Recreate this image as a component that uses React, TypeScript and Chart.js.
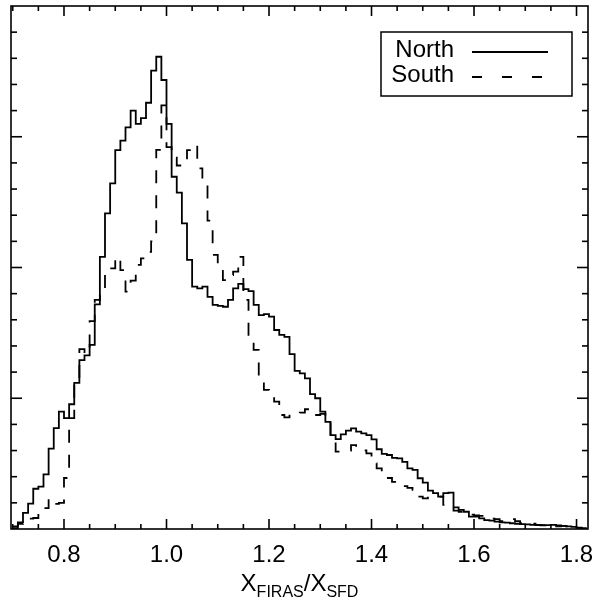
import React, { useEffect, useRef } from "react";
import { Chart, registerables } from "chart.js";

Chart.register(...registerables);

// Histogram bins: first bin starts at binStart, each bin is binWidth wide
const binStart = 0.7;
const binWidth = 0.01;

// Relative counts (in units of the minor y tick)
const northCounts = [
  0.03, 0.25, 0.62, 0.97, 1.54, 1.62, 2.09, 3.07, 3.86, 4.49,
  4.24, 4.77, 5.59, 6.46, 6.64, 7.04, 8.59, 10.41, 12.07, 13.22,
  14.49, 14.85, 15.36, 16.0, 15.49, 15.71, 16.3, 17.53, 18.06, 17.17,
  15.49, 13.47, 12.86, 11.69, 10.29, 9.27, 9.2, 9.27, 8.88, 8.57,
  8.53, 8.5, 8.76, 9.2, 9.37, 9.17, 9.1, 8.57, 8.18, 8.22,
  8.12, 7.61, 7.42, 7.35, 6.69, 6.05, 5.95, 5.76, 5.16, 5.0,
  4.49, 4.1, 3.59, 3.44, 3.62, 3.76, 3.85, 3.72, 3.66, 3.59,
  3.43, 3.05, 2.87, 2.83, 2.72, 2.7, 2.57, 2.32, 2.26, 1.94,
  1.77, 1.47, 1.37, 1.24, 1.37, 1.39, 0.83, 0.73, 0.66, 0.47,
  0.47, 0.41, 0.34, 0.32, 0.28, 0.25, 0.24, 0.22, 0.2, 0.19,
  0.18, 0.16, 0.15, 0.14, 0.15, 0.16, 0.14, 0.12, 0.1, 0.08,
  0.05, 0.02,
];

const southCounts = [
  0.1, 0.2, 0.3, 0.4, 0.42, 0.6, 0.8, 1.15, 0.96, 1.0,
  1.95, 4.24, 5.76, 6.88, 6.7, 7.95, 8.76, 9.06, 9.95, 9.97,
  10.4, 9.9, 9.08, 9.5, 10.1, 10.35, 10.6, 11.0, 14.5, 16.2,
  14.6, 14.2, 13.9, 13.98, 14.49, 14.68, 13.79, 13.27, 11.79, 10.48,
  9.93, 9.52, 9.71, 9.84, 10.41, 8.76, 7.35, 6.85, 5.82, 5.32,
  5.06, 4.87, 4.36, 4.27, 4.42, 4.42, 4.45, 4.58, 4.42, 4.36,
  4.4, 4.3, 3.53, 2.96, 2.96, 3.0, 3.21, 3.14, 3.01, 2.89,
  2.51, 2.32, 2.13, 1.95, 1.8, 1.72, 1.64, 1.57, 1.5, 1.24,
  1.17, 1.2, 1.22, 1.24, 0.92, 0.85, 0.7, 0.66, 0.6, 0.55,
  0.52, 0.5, 0.5, 0.4, 0.38, 0.3, 0.36, 0.38, 0.3, 0.22,
  0.2, 0.2, 0.16, 0.15, 0.14, 0.12, 0.1, 0.12, 0.1, 0.06,
  0.04, 0.02,
];

const xMajorTicks = [0.8, 1.0, 1.2, 1.4, 1.6, 1.8];
const xTickLabels = ["0.8", "1.0", "1.2", "1.4", "1.6", "1.8"];
const xMinorStep = 0.05;
const yMinorStep = 1;
const yMajorEvery = 5;
const xLimits = [0.6966, 1.8224];
const yLimits = [0, 20];

const seriesNames = ["North", "South"];
const titleParts = [
  { text: "X", sub: false },
  { text: "FIRAS", sub: true },
  { text: "/", sub: false },
  { text: "X", sub: false },
  { text: "SFD", sub: true },
];

const FONT = "'Liberation Sans', Arial, Helvetica, sans-serif";

function toSteps(values: number[]) {
  const pts = values.map((v, i) => ({ x: +(binStart + i * binWidth).toFixed(4), y: v }));
  pts.push({ x: +(binStart + values.length * binWidth).toFixed(4), y: values[values.length - 1] });
  return pts;
}

const framePlugin = {
  id: "framePlugin",
  afterDraw(chart: any) {
    const { ctx, chartArea: a, scales } = chart;
    const xs = scales.x;
    const ys = scales.y;
    ctx.save();
    ctx.strokeStyle = "#000";
    ctx.lineWidth = 1.6;
    ctx.lineCap = "butt";
    ctx.strokeRect(a.left, a.top, a.right - a.left, a.bottom - a.top);

    const line = (x1: number, y1: number, x2: number, y2: number) => {
      ctx.beginPath();
      ctx.moveTo(x1, y1);
      ctx.lineTo(x2, y2);
      ctx.stroke();
    };

    // x ticks (bottom and top, pointing inward)
    const kStart = Math.ceil(xLimits[0] / xMinorStep - 1e-6);
    const kEnd = Math.floor(xLimits[1] / xMinorStep + 1e-6);
    for (let k = kStart; k <= kEnd; k++) {
      const v = k * xMinorStep;
      const major = xMajorTicks.some((m) => Math.abs(m - v) < 1e-6);
      const len = major ? 10 : 5;
      const px = xs.getPixelForValue(v);
      if (px <= a.left + 1 || px >= a.right - 1) continue;
      line(px, a.bottom, px, a.bottom - len);
      line(px, a.top, px, a.top + len);
    }
    // y ticks (left and right, pointing inward)
    for (let v = yLimits[0] + yMinorStep; v < yLimits[1]; v += yMinorStep) {
      const major = Math.round(v) % yMajorEvery === 0;
      const len = major ? 11 : 6;
      const py = ys.getPixelForValue(v);
      line(a.left, py, a.left + len, py);
      line(a.right, py, a.right - len, py);
    }

    // x tick labels
    ctx.fillStyle = "#000";
    ctx.font = `24px ${FONT}`;
    ctx.textAlign = "center";
    ctx.textBaseline = "alphabetic";
    xMajorTicks.forEach((v, i) => {
      ctx.fillText(xTickLabels[i], xs.getPixelForValue(v), a.bottom + 33);
    });

    // axis title with subscripts
    const bigFont = `24px ${FONT}`;
    const subFont = `16px ${FONT}`;
    let total = 0;
    titleParts.forEach((p) => {
      ctx.font = p.sub ? subFont : bigFont;
      total += ctx.measureText(p.text).width;
    });
    let cx = (a.left + a.right) / 2 - total / 2;
    const base = a.bottom + 62;
    ctx.textAlign = "left";
    titleParts.forEach((p) => {
      ctx.font = p.sub ? subFont : bigFont;
      ctx.fillText(p.text, cx, p.sub ? base + 6 : base);
      cx += ctx.measureText(p.text).width;
    });

    // legend box
    const box = { left: 381, top: 32, right: 572, bottom: 96 };
    ctx.lineWidth = 1.5;
    ctx.strokeRect(box.left, box.top, box.right - box.left, box.bottom - box.top);
    ctx.font = `24px ${FONT}`;
    ctx.textAlign = "right";
    const rows = [
      { label: seriesNames[0], y: 52, dash: [] as number[] },
      { label: seriesNames[1], y: 77, dash: [10, 20] },
    ];
    rows.forEach((r) => {
      ctx.fillText(r.label, 454, r.y + 5);
      ctx.setLineDash(r.dash);
      ctx.lineWidth = 1.8;
      line(472, r.y, 548, r.y);
      ctx.setLineDash([]);
    });
    ctx.restore();
  },
};

export default function App() {
  const ref = useRef<HTMLCanvasElement>(null);
  useEffect(() => {
    if (!ref.current) return;
    const chart = new Chart(ref.current, {
      type: "line",
      data: {
        datasets: [
          {
            label: seriesNames[0],
            data: toSteps(northCounts),
            stepped: "before",
            borderColor: "#000",
            borderWidth: 1.8,
            pointRadius: 0,
            fill: false,
          },
          {
            label: seriesNames[1],
            data: toSteps(southCounts),
            stepped: "before",
            borderColor: "#000",
            borderWidth: 1.8,
            borderDash: [13, 12],
            pointRadius: 0,
            fill: false,
          },
        ],
      },
      options: {
        responsive: false,
        animation: false,
        layout: { padding: { left: 11, right: 20, top: 6, bottom: 70 } },
        scales: {
          x: { type: "linear", min: xLimits[0], max: xLimits[1], display: false },
          y: { type: "linear", min: yLimits[0], max: yLimits[1], display: false },
        },
        plugins: { legend: { display: false }, tooltip: { enabled: false } },
        elements: { point: { radius: 0 } },
      },
      plugins: [framePlugin],
    });
    return () => chart.destroy();
  }, []);
  return (
    <div style={{ position: "fixed", left: 0, top: 0, width: 608, height: 599, background: "#fff" }}>
      <canvas ref={ref} width={608} height={599} style={{ display: "block" }} />
    </div>
  );
}
